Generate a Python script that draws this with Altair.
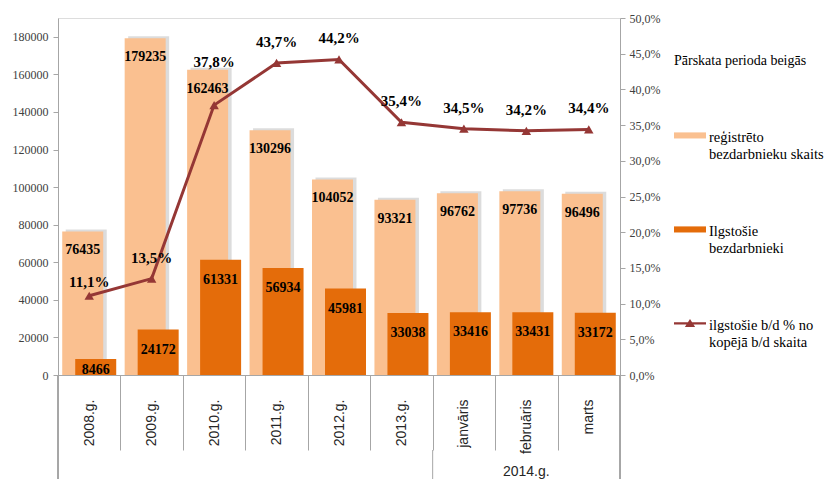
import altair as alt
import pandas as pd

categories = ["2008.g.", "2009.g.", "2010.g.", "2011.g.", "2012.g.", "2013.g.",
              "janvāris", "februāris", "marts"]
registered = [76435, 179235, 162463, 130296, 104052, 93321, 96762, 97736, 96496]
long_term = [8466, 24172, 61331, 56934, 45981, 33038, 33416, 33431, 33172]
share_pct = [11.1, 13.5, 37.8, 43.7, 44.2, 35.4, 34.5, 34.2, 34.4]
group_label = "2014.g."
group_members = ["janvāris", "februāris", "marts"]
series_lines = [["reģistrēto", "bezdarbnieku skaits"],
                ["Ilgstošie", "bezdarbnieki"],
                ["ilgstošie b/d % no", "kopējā b/d skaita"]]
legend_title = "Pārskata perioda beigās"
left_ticks = list(range(0, 180001, 20000))
right_ticks = [i / 100 for i in range(0, 51, 5)]

series_names = ["|".join(s) for s in series_lines]
df = pd.DataFrame({"cat": categories, "reg": registered, "ilg": long_term,
                   "pct": [p / 100 for p in share_pct]})
legend_df = pd.DataFrame({"series": series_names})
group_df = pd.DataFrame({"cat": [group_members[0]], "lab": [group_label],
                         "mid": [group_members[1]]})

W, H = 562, 357
LIGHT = "#FAC090"
DARK = "#E46C0A"
LINE = "#953735"
GRAY = "#A6A6A6"
SERIF = "Liberation Serif, Times New Roman, DejaVu Serif, serif"
SANS = "Liberation Sans, Arial, Arimo, sans-serif"

xscale = alt.Scale(domain=categories, paddingInner=0, paddingOuter=0)
xenc = alt.X("cat:N", sort=categories, scale=xscale,
             axis=alt.Axis(title=None, labelAngle=-90, labelAlign="right",
                           labelBaseline="middle", labelFont=SANS, labelFontSize=14,
                           labelColor="#262626", tickBand="extent", tickSize=75,
                           tickColor=GRAY, domainColor=GRAY, labelPadding=-51))
yscale = alt.Scale(domain=[0, 190000], nice=False)
yaxis = alt.Axis(title=None, values=left_ticks, format="d", grid=False,
                 labelFont=SERIF, labelFontSize=12, labelColor="#404040",
                 tickColor=GRAY, domainColor=GRAY, tickSize=5, labelPadding=5)

base = alt.Chart(df)

shadow = base.mark_bar(size=41, xOffset=-3, yOffset=-2, color="#808080", opacity=0.28).encode(
    x=xenc, y=alt.Y("reg:Q", scale=yscale, axis=yaxis))
light = base.mark_bar(size=41, xOffset=-6.5, color=LIGHT).encode(
    x=xenc, y=alt.Y("reg:Q", scale=yscale, axis=yaxis))
light_lab = base.mark_text(dx=-6.5, dy=19, font=SERIF, fontSize=14, fontWeight="bold",
                           color="#000000", baseline="middle").encode(
    x=xenc, y=alt.Y("reg:Q", scale=yscale, axis=yaxis), text=alt.Text("reg:Q", format="d"))
dark = base.mark_bar(size=41, xOffset=6.5, color=DARK).encode(
    x=xenc, y=alt.Y("ilg:Q", scale=yscale, axis=yaxis))
dark_lab = base.transform_calculate(ly="max(datum.ilg, 13300)").mark_text(
    dx=6.5, dy=20, font=SERIF, fontSize=14, fontWeight="bold",
    color="#000000", baseline="middle").encode(
    x=xenc, y=alt.Y("ly:Q", scale=yscale, axis=yaxis), text=alt.Text("ilg:Q", format="d"))

# decorations of the category axis
left_ext = base.mark_rule(color=GRAY).encode(x=alt.value(0), y=alt.value(H), y2=alt.value(H + 104))
right_ext = base.mark_rule(color=GRAY).encode(x=alt.value(W), y=alt.value(H), y2=alt.value(H + 104))
group_sep = alt.Chart(group_df).mark_rule(color=GRAY).encode(
    x=alt.X("cat:N", sort=categories, scale=xscale, bandPosition=0),
    y=alt.value(H + 75), y2=alt.value(H + 104))
group_txt = alt.Chart(group_df).mark_text(font=SANS, fontSize=14, color="#262626",
                                          baseline="middle").encode(
    x=alt.X("mid:N", sort=categories, scale=xscale), y=alt.value(H + 97), text="lab:N")

# legend (dummy invisible layer carrying the legend)
sym_rect = "M-1,-0.35H1V0.03H-1Z"
sym_line = "M-1,-0.23H1V-0.09H-1ZM0,-0.43L0.32,0.07H-0.32Z"
legend_layer = alt.Chart(legend_df).mark_point(opacity=0, filled=True).encode(
    color=alt.Color("series:N", sort=series_names,
                    scale=alt.Scale(domain=series_names, range=[LIGHT, DARK, LINE]),
                    legend=alt.Legend(title=legend_title, orient="none", legendX=616, legendY=36,
                                      titleFont=SERIF, titleFontSize=14, titleFontWeight="normal",
                                      titleColor="#000000", titlePadding=54,
                                      labelFont=SERIF, labelFontSize=14.5, labelColor="#000000",
                                      labelExpr="split(datum.label, '|')", labelLimit=220,
                                      labelBaseline="middle", labelOffset=3,
                                      symbolSize=1024, symbolOpacity=1, symbolStrokeWidth=0,
                                      rowPadding=55, padding=0)),
    shape=alt.Shape("series:N", sort=series_names,
                    scale=alt.Scale(domain=series_names, range=[sym_rect, sym_rect, sym_line]),
                    legend=None),
)

left = alt.layer(shadow, light, light_lab, dark, dark_lab, left_ext, right_ext,
                 group_sep, group_txt, legend_layer)

# right axis: percentage line
pscale = alt.Scale(domain=[0, 0.5], nice=False)
paxis = alt.Axis(title=None, orient="right", values=right_ticks, grid=False,
                 labelExpr="replace(format(datum.value, '.1%'), '.', ',')",
                 labelFont=SERIF, labelFontSize=12, labelColor="#404040",
                 tickColor=GRAY, domainColor=GRAY, tickSize=5, labelPadding=4)
pbase = base.transform_calculate(plab="replace(format(datum.pct, '.1%'), '.', ',')")
py = alt.Y("pct:Q", scale=pscale, axis=paxis)
pline = pbase.mark_line(color=LINE, strokeWidth=3).encode(x=xenc, y=py)
pmark = pbase.mark_point(shape="triangle-up", filled=True, size=90, color=LINE, opacity=1).encode(x=xenc, y=py)
txt_kw = dict(font=SERIF, fontSize=15, fontWeight="bold", color="#000000", baseline="middle")
special = {"2008.g.": -14, "2010.g.": -43}
plab_main = pbase.transform_filter(
    ~alt.FieldOneOfPredicate(field="cat", oneOf=list(special))).mark_text(dy=-21, **txt_kw).encode(
    x=xenc, y=py, text="plab:N")
plab_layers = [plab_main]
for c, d in special.items():
    plab_layers.append(pbase.transform_filter(alt.FieldEqualPredicate(field="cat", equal=c))
                       .mark_text(dy=d, **txt_kw).encode(x=xenc, y=py, text="plab:N"))

right = alt.layer(pline, pmark, *plab_layers)

chart = alt.layer(left, right).resolve_scale(y="independent").properties(
    width=W, height=H,
    autosize=alt.AutoSizeParams(type="none"),
    padding={"left": 50, "top": 10, "right": 205, "bottom": 104},
).configure_view(stroke=None).configure(background="white")

chart.save("out.html", embed_options={"renderer": "svg", "actions": False})
